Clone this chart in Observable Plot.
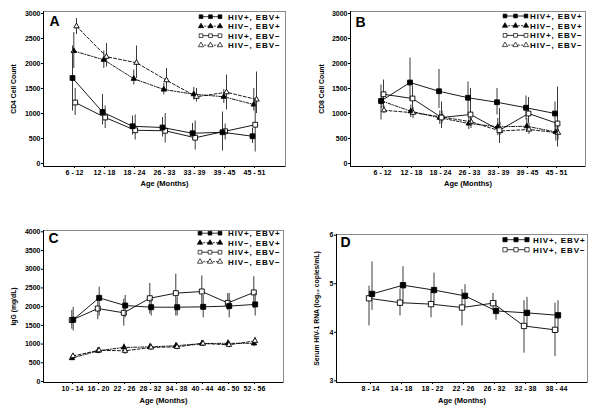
<!DOCTYPE html>
<html><head><meta charset="utf-8">
<script src="https://cdn.jsdelivr.net/npm/d3@7"></script>
<script src="https://cdn.jsdelivr.net/npm/@observablehq/plot@0.6"></script>
<style>
html,body{margin:0;padding:0;background:#fff;}
#wrap{position:relative;width:600px;height:414px;overflow:hidden;background:#fff;}
.panel{position:absolute;width:300px;height:207px;}
</style></head><body><div id="wrap"></div>
<script>
// ---------- categories ----------
const agesAB = ["6-12","12-18","18-24","26-33","33-39","39-45","45-51"];
const agesC  = ["10-14","16-20","22-26","28-32","34-38","40-44","46-50","52-56"];
const agesD  = ["8-14","14-18","18-22","22-26","26-32","32-38","38-44"];
const legendLabels = ["HIV+, EBV+","HIV\u2212, EBV+","HIV+, EBV\u2212","HIV\u2212, EBV\u2212"];

// ---------- Panel A: CD4 ----------
const cd4_pp    = [1710, 1030, 745, 720, 605, 625, 545];
const cd4_pp_lo = [1050, 770, 570, 530, 470, 250, 400];
const cd4_pp_hi = [2350, 1380, 950, 920, 800, 1030, 700];
const cd4_np    = [2250, 2075, 1695, 1480, 1385, 1335, 1180];
const cd4_np_lo = [1900, 1900, 1570, 1370, 1270, 1200, 1050];
const cd4_np_hi = [2620, 2250, 1870, 1600, 1520, 1480, 1500];
const cd4_pn    = [1220, 920, 665, 655, 515, 645, 775];
const cd4_pn_lo = [960, 700, 470, 410, 270, 470, 230];
const cd4_pn_hi = [1500, 1150, 970, 1000, 850, 790, 1300];
const cd4_nn    = [2745, 2135, 2015, 1665, 1335, 1425, 1280];
const cd4_nn_lo = [2580, 1930, 1700, 1430, 1230, 1070, 1000];
const cd4_nn_hi = [2900, 2400, 2350, 1900, 1500, 1770, 1830];

// ---------- Panel B: CD8 ----------
const cd8_pp    = [1250, 1620, 1445, 1315, 1225, 1115, 1000];
const cd8_pp_lo = [870, 1240, 1100, 970, 970, 870, 650];
const cd8_pp_hi = [1570, 2110, 1880, 1630, 1500, 1350, 1230];
const cd8_np    = [1250, 1045, 915, 800, 735, 745, 630];
const cd8_np_lo = [1100, 920, 780, 680, 560, 620, 450];
const cd8_np_hi = [1400, 1170, 1050, 920, 900, 900, 780];
const cd8_pn    = [1385, 1300, 920, 980, 665, 1000, 800];
const cd8_pn_lo = [1100, 1000, 700, 770, 400, 800, 330];
const cd8_pn_hi = [1670, 1550, 1230, 1500, 1100, 1320, 1530];
const cd8_nn    = [1065, 1015, 930, 835, 650, 680, 615];
const cd8_nn_lo = [1000, 900, 800, 700, 560, 580, 470];
const cd8_nn_hi = [1150, 1120, 1050, 950, 820, 800, 760];

// ---------- Panel C: IgG ----------
const igg_pp    = [1650, 2235, 2030, 1985, 1985, 1995, 2015, 2060];
const igg_pp_lo = [1350, 1750, 1700, 1750, 1750, 1700, 1700, 1750];
const igg_pp_hi = [1980, 2520, 2300, 2200, 2250, 2300, 2350, 2350];
const igg_np    = [625, 820, 910, 925, 955, 1015, 1020, 1020];
const igg_np_lo = [560, 740, 820, 840, 870, 940, 940, 930];
const igg_np_hi = [700, 900, 1000, 1020, 1040, 1100, 1110, 1110];
const igg_pn    = [1640, 1950, 1835, 2225, 2360, 2405, 2100, 2380];
const igg_pn_lo = [1400, 1650, 1480, 1800, 1750, 2000, 1900, 1950];
const igg_pn_hi = [1900, 2250, 2200, 2620, 2870, 2820, 2350, 2800];
const igg_nn    = [680, 835, 820, 910, 925, 1015, 980, 1085];
const igg_nn_lo = [610, 760, 720, 830, 850, 940, 900, 1000];
const igg_nn_hi = [750, 910, 910, 1000, 1010, 1090, 1070, 1180];

// ---------- Panel D: HIV-1 RNA ----------
const rna_pp    = [4.79, 4.97, 4.87, 4.75, 4.44, 4.40, 4.35];
const rna_pp_lo = [4.45, 4.58, 4.55, 4.52, 4.25, 4.10, 4.00];
const rna_pp_hi = [5.45, 5.35, 5.22, 4.98, 4.65, 4.72, 4.65];
const rna_pn    = [4.70, 4.61, 4.58, 4.51, 4.60, 4.13, 4.05];
const rna_pn_lo = [4.13, 4.34, 4.30, 4.13, 4.45, 3.57, 3.50];
const rna_pn_hi = [4.95, 4.89, 4.87, 4.88, 4.80, 4.65, 4.60];

// ---------- tick values ----------
const ticksCount = [0, 500, 1000, 1500, 2000, 2500, 3000];
const ticksIgG = [0, 500, 1000, 1500, 2000, 2500, 3000, 3500, 4000];
const ticksRNA = [3, 4, 5, 6];

// ---------- helpers ----------
const rows = (ages, v, lo, hi) => ages.map((a, i) => ({age: a, v: v[i], lo: lo[i], hi: hi[i]}));
const STY = {
  pp: {label: legendLabels[0], symbol: "square",   fill: "black", dash: null},
  np: {label: legendLabels[1], symbol: "triangle", fill: "black", dash: "3,1.5,1,1.5"},
  pn: {label: legendLabels[2], symbol: "square",   fill: "white", dash: null},
  nn: {label: legendLabels[3], symbol: "triangle", fill: "white", dash: "3,2"}
};

function axisLines() {
  return (index, scales, values, dim) => {
    const g = d3.create("svg:g");
    const x0 = dim.marginLeft + 0.5, x1 = dim.width - dim.marginRight;
    const y0 = dim.marginTop, y1 = dim.height - dim.marginBottom + 0.5;
    g.append("line").attr("x1", x0).attr("x2", x0).attr("y1", y0).attr("y2", y1).attr("stroke", "black");
    g.append("line").attr("x1", x0).attr("x2", x1).attr("y1", y1).attr("y2", y1).attr("stroke", "black");
    return g.node();
  };
}

function legend(entries, cfg) {
  return (index, scales, values, dim) => {
    const g = d3.create("svg:g");
    const right = dim.width - dim.marginRight;
    entries.forEach((e, i) => {
      const y = dim.marginTop + cfg.top + i * cfg.step;
      const xa = right + cfg.g0, xb = right + cfg.g1;
      const ln = g.append("line").attr("x1", xa).attr("x2", xb).attr("y1", y).attr("y2", y)
        .attr("stroke", "black").attr("stroke-width", 0.8);
      if (e.dash) ln.attr("stroke-dasharray", "2,1.2");
      const sym = d3.symbol(e.symbol === "square" ? d3.symbolSquare : d3.symbolTriangle,
                            e.symbol === "square" ? cfg.sq : cfg.tri)();
      [xa, (xa + xb) / 2, xb].forEach(x => {
        g.append("path").attr("d", sym).attr("transform", `translate(${x},${y})`)
          .attr("fill", e.fill).attr("stroke", "black").attr("stroke-width", 0.7);
      });
      g.append("text").attr("x", right + cfg.tx).attr("y", y).attr("dy", "0.36em")
        .attr("text-anchor", "start").attr("letter-spacing", "0.9px")
        .attr("font-size", 8).attr("font-weight", "bold").attr("fill", "black").text(e.label);
    });
    return g.node();
  };
}

function seriesMarks(data, sty, dx, r) {
  const rr = sty.symbol === "square" ? r : 2.0;
  return [
    Plot.ruleX(data, {x: "age", y1: "lo", y2: "hi", dx, stroke: "#3a3a3a", strokeWidth: 1}),
    Plot.line(data, {x: "age", y: "v", dx, stroke: "black", strokeWidth: 0.9,
                     strokeDasharray: sty.dash || undefined}),
    Plot.dot(data, {x: "age", y: "v", dx, symbol: sty.symbol, r: rr, fill: sty.fill,
                    stroke: "black", strokeWidth: 0.9})
  ];
}

function panel(cfg) {
  const marks = [
    Plot.frame({stroke: "#8a8a8a", strokeWidth: 1}),
    axisLines()
  ];
  cfg.series.forEach(s => marks.push(...seriesMarks(s.data, s.sty, s.dx, cfg.sqR)));
  marks.push(legend(cfg.legendEntries, cfg.legend));
  marks.push(Plot.text([cfg.letter], {frameAnchor: "top-left", dx: cfg.letterDx, dy: cfg.letterDy,
    fontSize: 14, fontWeight: "bold", textAnchor: "start", lineAnchor: "top"}));
  marks.push(Plot.text(["Age (Months)"], {frameAnchor: "bottom", dy: cfg.xLabelDy,
    fontSize: 7.5, fontWeight: "bold", lineAnchor: "middle"}));
  marks.push(Plot.text([cfg.yLabel], {frameAnchor: "left", dx: cfg.yLabelDx, rotate: -90,
    fontSize: 6.8, fontWeight: "bold", lineAnchor: "middle", textAnchor: "middle"}));
  const svg = Plot.plot({
    width: 300, height: 207,
    marginLeft: cfg.ml, marginRight: cfg.mr, marginTop: cfg.mt, marginBottom: cfg.mb,
    style: {background: "white", fontFamily: "'Liberation Sans', Arial, sans-serif",
            fontSize: "7px", fontWeight: "bold", color: "black", overflow: "visible"},
    x: {type: "point", domain: cfg.ages, padding: cfg.xPad, align: cfg.xAlign ?? 0.5,
        tickSize: 2, tickPadding: 2, label: null, tickFormat: d => d.replace("-", " - ")},
    y: {domain: cfg.yDomain, ticks: cfg.yTicks, tickSize: 2, tickPadding: 1, label: null,
        tickFormat: d => String(d)},
    marks
  });
  const div = document.createElement("div");
  div.className = "panel";
  div.style.left = cfg.left + "px";
  div.style.top = cfg.top + "px";
  div.appendChild(svg);
  document.getElementById("wrap").appendChild(div);
}

const legend4 = [STY.pp, STY.np, STY.pn, STY.nn];

// ---------- panels ----------
panel({
  left: 0, top: 0, ml: 43, mr: 15, mt: 11, mb: 41,
  ages: agesAB, xPad: 1.03, yDomain: [-60, 3040], yTicks: ticksCount,
  yLabel: "CD4 Cell Count", yLabelDx: -30, xLabelDy: 17, letter: "A", letterDx: 6, letterDy: 5,
  sqR: 2.7, legendEntries: legend4,
  legend: {top: 5.7, step: 9.5, g0: -84, g1: -65, tx: -57, sq: 14, tri: 12},
  series: [
    {data: rows(agesAB, cd4_np, cd4_np_lo, cd4_np_hi), sty: STY.np, dx: -0.7},
    {data: rows(agesAB, cd4_nn, cd4_nn_lo, cd4_nn_hi), sty: STY.nn, dx: 2},
    {data: rows(agesAB, cd4_pn, cd4_pn_lo, cd4_pn_hi), sty: STY.pn, dx: 0.7},
    {data: rows(agesAB, cd4_pp, cd4_pp_lo, cd4_pp_hi), sty: STY.pp, dx: -2}
  ]
});

panel({
  left: 300, top: 0, ml: 50, mr: 15, mt: 11, mb: 41,
  ages: agesAB, xPad: 0.92, xAlign: 0.53, yDomain: [-60, 3040], yTicks: ticksCount,
  yLabel: "CD8 Cell Count", yLabelDx: -29, xLabelDy: 17, letter: "B", letterDx: 5, letterDy: 6,
  sqR: 2.7, legendEntries: legend4,
  legend: {top: 5, step: 9.7, g0: -80, g1: -59, tx: -55, sq: 14, tri: 12},
  series: [
    {data: rows(agesAB, cd8_np, cd8_np_lo, cd8_np_hi), sty: STY.np, dx: -0.7},
    {data: rows(agesAB, cd8_nn, cd8_nn_lo, cd8_nn_hi), sty: STY.nn, dx: 1.5},
    {data: rows(agesAB, cd8_pn, cd8_pn_lo, cd8_pn_hi), sty: STY.pn, dx: 1},
    {data: rows(agesAB, cd8_pp, cd8_pp_lo, cd8_pp_hi), sty: STY.pp, dx: -1.5}
  ]
});

panel({
  left: 0, top: 207, ml: 43, mr: 17, mt: 23, mb: 32,
  ages: agesC, xPad: 1.0, yDomain: [-27, 4035], yTicks: ticksIgG,
  yLabel: "IgG (mg/dL)", yLabelDx: -30, xLabelDy: 18, letter: "C", letterDx: 5, letterDy: 3,
  sqR: 2.8, legendEntries: legend4,
  legend: {top: 3.2, step: 9.5, g0: -83, g1: -63, tx: -55, sq: 14, tri: 12},
  series: [
    {data: rows(agesC, igg_np, igg_np_lo, igg_np_hi), sty: STY.np, dx: -0.5},
    {data: rows(agesC, igg_nn, igg_nn_lo, igg_nn_hi), sty: STY.nn, dx: 0.5},
    {data: rows(agesC, igg_pn, igg_pn_lo, igg_pn_hi), sty: STY.pn, dx: -0.7},
    {data: rows(agesC, igg_pp, igg_pp_lo, igg_pp_hi), sty: STY.pp, dx: 0.7}
  ]
});

panel({
  left: 300, top: 207, ml: 36, mr: 13, mt: 27, mb: 32,
  ages: agesD, xPad: 1.0, xAlign: 0.52, yDomain: [2.965, 6.015], yTicks: ticksRNA,
  yLabel: "Serum HIV-1 RNA (log\u2081\u2080 copies/mL)", yLabelDx: -20, xLabelDy: 18,
  letter: "D", letterDx: 4, letterDy: 3,
  sqR: 3.0, legendEntries: [STY.pp, {...STY.pn, dash: null}],
  legend: {top: 5.7, step: 10, g0: -82, g1: -60, tx: -54, sq: 18, tri: 12},
  series: [
    {data: rows(agesD, rna_pn, rna_pn_lo, rna_pn_hi), sty: {...STY.pn, dash: null}, dx: -1.5},
    {data: rows(agesD, rna_pp, rna_pp_lo, rna_pp_hi), sty: STY.pp, dx: 1.5}
  ]
});
</script></body></html>
